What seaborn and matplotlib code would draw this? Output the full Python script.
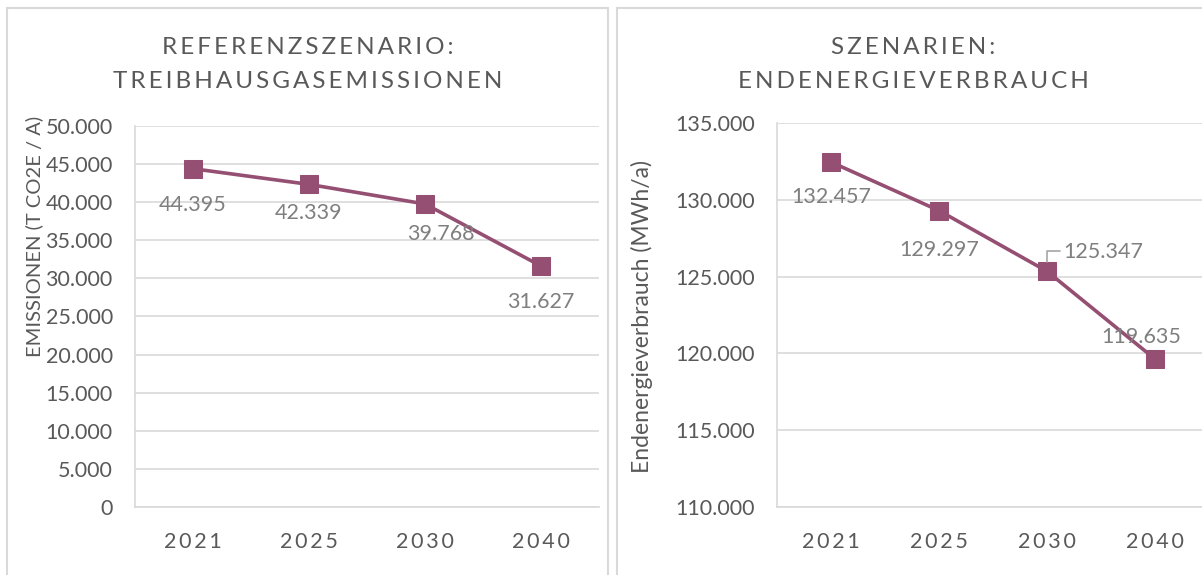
import matplotlib.pyplot as plt
import seaborn as sns
import pandas as pd
from matplotlib.patches import Rectangle

years = ['2021', '2025', '2030', '2040']
emissionen = [44395, 42339, 39768, 31627]
endenergie = [132457, 129297, 125347, 119635]
labels_em = ['44.395', '42.339', '39.768', '31.627']
labels_en = ['132.457', '129.297', '125.347', '119.635']
yticks_em = [0, 5000, 10000, 15000, 20000, 25000, 30000, 35000, 40000, 45000, 50000]
yticks_en = [110000, 115000, 120000, 125000, 130000, 135000]

sns.set_style('white')
plt.rcParams['font.family'] = ['Lato', 'DejaVu Sans']

LINE = '#954f72'
GRID = '#d9d9d9'
TXT = '#595959'
LAB = '#7f7f7f'
FS = 15.5

W, H = 1202, 575
fig = plt.figure(figsize=(W / 100, H / 100), dpi=100)


def spaced(s):
    return '\u2009'.join(s)


def px_axes(l, t, r, b):
    return fig.add_axes([l / W, 1 - b / H, (r - l) / W, (b - t) / H])


# Rahmen der beiden Diagramme
fig.patches.append(Rectangle((7 / W, -0.01), 601 / W, 1 - 8 / H + 0.01,
                             transform=fig.transFigure, fill=False, ec=GRID, lw=1.5))
fig.patches.append(Rectangle((617 / W, -0.01), 600 / W, 1 - 8 / H + 0.01,
                             transform=fig.transFigure, fill=False, ec=GRID, lw=1.5))


def style(ax, ticks, fmt):
    ax.set_xlim(-0.5, 3.5)
    ax.set_yticks(ticks)
    ax.set_yticklabels([fmt(v) for v in ticks])
    ax.set_ylim(ticks[0], ticks[-1])
    ax.grid(axis='y', color=GRID, lw=1.2)
    ax.set_axisbelow(True)
    for s in ['top', 'right']:
        ax.spines[s].set_visible(False)
    for s in ['left', 'bottom']:
        ax.spines[s].set_color(GRID)
        ax.spines[s].set_linewidth(1.2)
    ax.tick_params(axis='both', length=0, labelsize=FS, colors=TXT)
    ax.tick_params(axis='x', pad=18)
    ax.tick_params(axis='y', pad=16)
    ax.set_xticks(range(len(years)))
    ax.set_xticklabels([spaced(y) for y in years])
    ax.set_xlabel('')


def num(v):
    return f'{v:,.0f}'.replace(',', '.')


# links: Emissionen
ax1 = px_axes(135, 126, 599, 507)
df1 = pd.DataFrame({'Jahr': years, 'Wert': emissionen})
sns.lineplot(data=df1, x='Jahr', y='Wert', ax=ax1, color=LINE, lw=2.6,
             marker='s', markersize=12.5, markeredgecolor=LINE)
style(ax1, yticks_em, num)
ax1.set_ylabel('EMISSIONEN (T CO2E / A)', fontsize=14.5, color=TXT)
ax1.yaxis.set_label_coords(-92 / 464, 0.5 + 80 / 381)
off1 = [(0, -36), (0, -29), (16, -30), (0, -36)]
for i, (v, lab) in enumerate(zip(emissionen, labels_em)):
    ax1.annotate(lab, (i, v), xytext=off1[i], textcoords='offset pixels',
                 ha='center', va='center', fontsize=FS, color=LAB)

# rechts: Endenergieverbrauch
ax2 = px_axes(777, 123, 1209, 507)
df2 = pd.DataFrame({'Jahr': years, 'Wert': endenergie})
sns.lineplot(data=df2, x='Jahr', y='Wert', ax=ax2, color=LINE, lw=2.6,
             marker='s', markersize=12.5, markeredgecolor=LINE)
style(ax2, yticks_en, num)
ax2.set_ylabel('Endenergieverbrauch (MWh/a)', fontsize=16.5, color=TXT)
ax2.yaxis.set_label_coords(-124 / 432, 0.5 - 2 / 384)
off2 = [(0, -35), (0, -39), (56, 19), (-14, 22)]
for i, (v, lab) in enumerate(zip(endenergie, labels_en)):
    ax2.annotate(lab, (i, v), xytext=off2[i], textcoords='offset pixels',
                 ha='center', va='center', fontsize=FS, color=LAB)
# Führungslinie für 125.347
ax2.annotate('', (2, endenergie[2]), xytext=(13, 20), textcoords='offset pixels',
             arrowprops=dict(arrowstyle='-', color='#a6a6a6', lw=1.2,
                             connectionstyle='angle,angleA=0,angleB=90,rad=0',
                             shrinkA=0, shrinkB=7))

for x, txt1, txt2 in [(308, 'REFERENZSZENARIO:', 'TREIBHAUSGASEMISSIONEN'),
                      (913, 'SZENARIEN:', 'ENDENERGIEVERBRAUCH')]:
    fig.text(x / W, 1 - 47 / H, spaced(txt1), ha='center', va='center',
             fontsize=17.5, color=TXT)
    fig.text(x / W, 1 - 82 / H, spaced(txt2), ha='center', va='center',
             fontsize=17.5, color=TXT)

fig.savefig('out.png', dpi=100, facecolor='white')
